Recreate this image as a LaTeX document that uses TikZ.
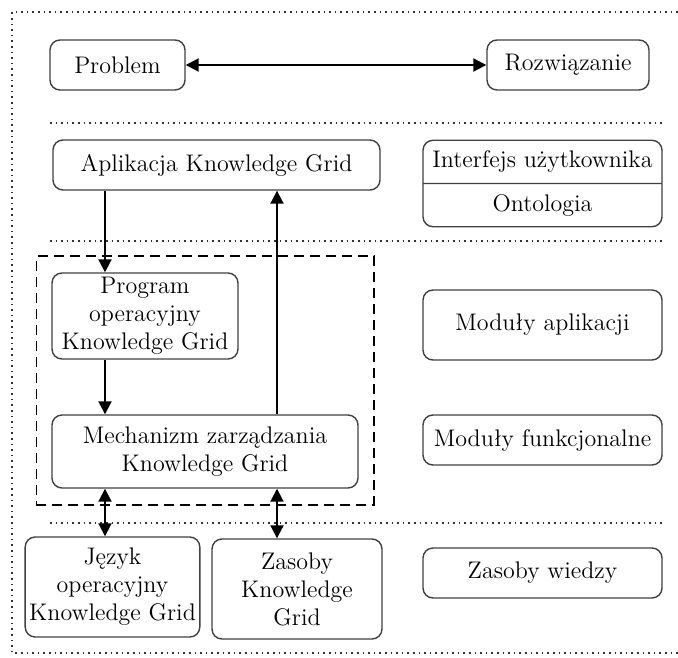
\documentclass[tikz,border=0pt]{standalone}
\usepackage{tikz}
\usetikzlibrary{arrows.meta,calc,positioning,fit,shapes.multipart}

\begin{document}
\begin{tikzpicture}[x=0.5pt, y=-0.5pt,
    box/.style={rectangle, draw=black!75, line width=0.7pt, rounded corners=5pt, align=center, font=\large, inner sep=2pt},
    arrow/.style={-{Triangle[length=6.5pt,width=6.5pt]}, line width=1pt},
    twoway/.style={{Triangle[length=6.5pt,width=6.5pt]}-{Triangle[length=6.5pt,width=6.5pt]}, line width=1pt},
    sep/.style={dotted, line width=0.8pt, black!80},
    group/.style={draw, dashed, dash pattern=on 5pt off 3pt, line width=0.8pt}]
    \useasboundingbox (0,0) rectangle (678,657);

    % frame and layer separators
    \draw[sep] (678,12) -- (12,12) -- (12,653) -- (678,653);
    \draw[sep] (50,123) -- (663,123);
    \draw[sep] (50,241) -- (663,241);
    \draw[sep] (50,523) -- (663,523);

    % left column
    \node[box, minimum width=67.5pt, minimum height=25pt] (problem) at (117.5,65) {Problem};
    \node[box, minimum width=81pt, minimum height=25pt] (solution) at (568,65) {Rozwiązanie};
    \node[box, minimum width=163.5pt, minimum height=25pt] (app) at (216.5,165) {Aplikacja Knowledge Grid};
    \node[box, minimum width=93pt, minimum height=43pt] (program) at (145,316) {Program\\operacyjny\\Knowledge Grid};
    \node[box, minimum width=153pt, minimum height=36.5pt] (engine) at (205,451.5) {Mechanizm zarządzania\\Knowledge Grid};
    \node[box, minimum width=85.5pt, minimum height=50pt] (language) at (112.5,587) {Język\\operacyjny\\Knowledge Grid};
    \node[box, minimum width=85pt, minimum height=50pt] (resources) at (297,589) {Zasoby\\Knowledge\\Grid};
    \node[group, inner xsep=7.5pt, inner ysep=8pt, fit=(program) (engine)] (core) {};

    % right column
    \node[box, rectangle split, rectangle split parts=2, minimum width=119.5pt, inner ysep=5pt] (ui) at (542.5,183.5)
        {Interfejs użytkownika\nodepart{two}Ontologia};
    \node[box, minimum width=119.5pt, minimum height=35pt] (appmod) at (542.5,325) {Moduły aplikacji};
    \node[box, minimum width=119.5pt, minimum height=25pt] (funmod) at (542.5,440) {Moduły funkcjonalne};
    \node[box, minimum width=119.5pt, minimum height=25pt] (knowledge) at (542.5,573) {Zasoby wiedzy};

    \coordinate (laneA) at (105,0);
    \coordinate (laneB) at (277,0);

    \draw[twoway] (problem) -- (solution);
    \draw[arrow] (app.south -| laneA) -- (program.north -| laneA);
    \draw[arrow] (program.south -| laneA) -- (engine.north -| laneA);
    \draw[arrow] (engine.north -| laneB) -- (app.south -| laneB);
    \draw[twoway] (engine.south -| laneA) -- (language.north -| laneA);
    \draw[twoway] (engine.south -| laneB) -- (resources.north -| laneB);
\end{tikzpicture}
\end{document}
